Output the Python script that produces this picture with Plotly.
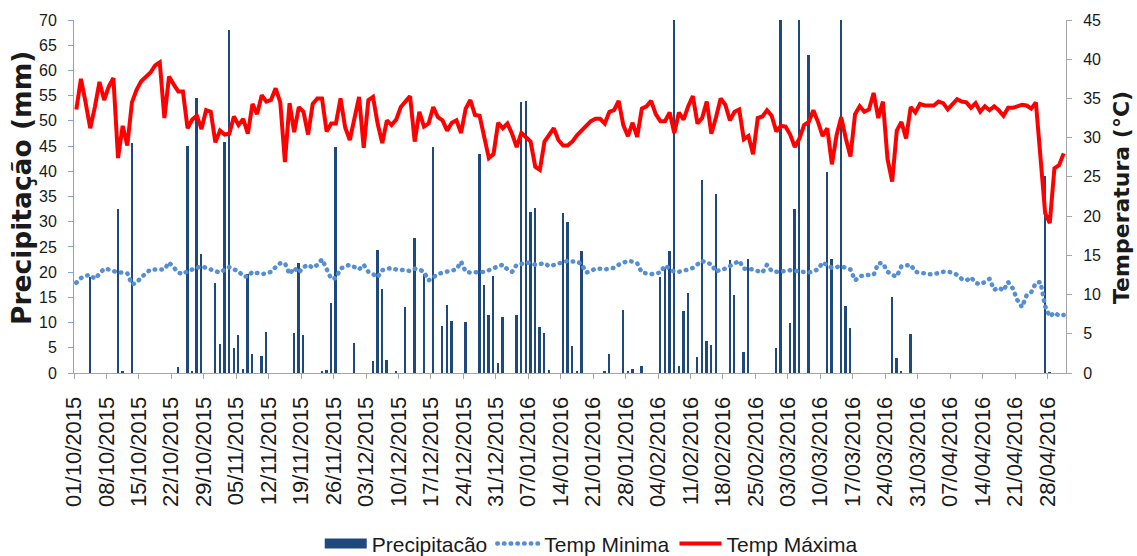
import plotly.graph_objects as go
import pandas as pd

# ---------------- data (daily, 01/10/2015 .. 01/05/2016) ----------------
start_date = "2015-10-01"

precipitacao = [
    0, 0, 0, 19.0, 0, 0, 0,
    0, 0, 32.6, 0.3, 0, 45.7, 0,
    0, 0, 0, 0, 0, 0, 0,
    0, 1.1, 0, 45.0, 0.4, 54.6, 23.5,
    0, 0, 17.8, 5.7, 45.8, 68.0, 5.0,
    7.5, 0.7, 19.6, 3.7, 0, 3.3, 8.1,
    0, 0, 0, 0, 0, 8.0, 21.8,
    7.5, 0, 0, 0, 0.3, 0.6, 13.8,
    44.8, 0, 0, 0, 6.0, 0, 0,
    0, 2.4, 24.4, 16.6, 2.6, 0, 0.2,
    0, 13.0, 0, 26.8, 0, 19.6, 0,
    44.8, 0, 9.4, 13.5, 10.4, 0, 0,
    10.2, 0, 0, 43.5, 17.4, 11.6, 19.2,
    1.9, 11.1, 0, 0, 11.5, 53.7, 54.0,
    31.9, 32.7, 9.2, 8.0, 0.6, 0, 0,
    31.8, 30.0, 5.3, 0.3, 24.2, 0, 0,
    0, 0, 0.2, 3.7, 0, 0, 12.5,
    0.3, 0.8, 0, 1.4, 0, 0, 0,
    19.1, 21.0, 24.2, 90.0, 1.4, 12.3, 15.8,
    0, 3.1, 38.3, 6.3, 5.6, 35.5, 0,
    0, 22.4, 15.5, 0, 4.1, 22.7, 0,
    0, 0, 0, 0, 5.0, 85.0, 0,
    10.0, 32.6, 78.0, 0, 63.0, 0, 0,
    0, 39.9, 22.7, 0, 95.0, 13.3, 9.0,
    0, 0, 0, 0, 0, 0, 0,
    0, 15.1, 2.9, 0.2, 0, 7.7, 0,
    0, 0, 0, 0, 0, 0, 0,
    0, 0, 0, 0, 0, 0, 0,
    0, 0, 0, 0, 0, 0, 0,
    0, 0, 0, 0, 0, 0, 39.1,
    0.1, 0, 0, 0,
]

temp_minima = [
    11.5, 12.1, 12.4, 12.5, 12.0, 12.6, 13.3,
    13.2, 13.0, 12.8, 12.8, 12.7, 11.3, 11.5,
    12.2, 12.8, 13.2, 13.2, 13.2, 13.2, 14.1,
    13.5, 12.8, 12.6, 13.0, 13.2, 13.4, 13.6,
    13.4, 13.2, 13.0, 12.8, 13.2, 13.5, 13.2,
    13.0, 12.3, 12.3, 12.9, 12.8, 12.6, 12.7,
    12.9, 13.5, 14.0, 14.0, 12.6, 13.4, 12.8,
    13.5, 13.8, 13.4, 13.8, 14.5, 13.1, 12.0,
    12.1, 13.3, 13.6, 13.8, 13.5, 13.2, 13.8,
    12.9, 12.6, 12.2, 13.1, 13.3, 13.4, 13.2,
    13.2, 13.1, 13.0, 13.3, 13.2, 12.9, 11.8,
    12.2, 12.6, 12.8, 12.9, 13.0, 13.2, 14.2,
    12.9, 12.8, 12.8, 12.8, 12.9, 13.1, 13.4,
    13.6, 13.8, 13.2, 12.9, 13.8, 13.9, 14.1,
    14.0, 13.8, 13.9, 14.0, 13.6, 13.8, 14.0,
    14.1, 14.3, 14.2, 14.2, 13.9, 12.8, 13.0,
    13.3, 13.3, 13.2, 13.3, 13.4, 13.8, 14.0,
    14.3, 14.2, 14.0, 12.8, 12.7, 12.6, 12.7,
    12.8, 13.7, 13.3, 12.9, 12.9, 13.0, 13.2,
    13.4, 13.9, 14.3, 14.0, 13.9, 12.9, 13.2,
    13.3, 13.6, 14.0, 14.3, 13.3, 13.3, 13.2,
    13.0, 12.8, 13.8, 13.0, 12.9, 12.9, 13.0,
    13.1, 13.0, 12.9, 12.8, 12.8, 13.0, 13.2,
    14.1, 13.8, 13.4, 13.5, 13.6, 13.4, 13.2,
    11.8, 12.3, 12.5, 12.5, 12.5, 14.0, 14.0,
    12.9, 12.5, 12.3, 13.6, 13.7, 13.8, 12.9,
    12.8, 12.6, 12.6, 12.6, 12.8, 12.9, 12.9,
    12.8, 12.5, 12.0, 11.8, 12.2, 11.5, 11.3,
    11.6, 12.0, 10.6, 10.9, 10.5, 11.6, 10.8,
    9.3, 8.4, 9.9, 10.3, 11.5, 11.6, 8.5,
    7.2, 7.7, 7.3, 7.4,
]

temp_maxima = [
    33.6, 37.5, 34.5, 31.2, 33.9, 37.1, 34.8,
    36.5, 37.6, 27.4, 31.5, 29.0, 34.5, 36.1,
    37.2, 37.7, 38.3, 39.2, 39.6, 32.5, 37.8,
    36.8, 35.9, 35.9, 31.2, 32.3, 32.8, 31.1,
    33.5, 33.3, 29.4, 30.9, 30.4, 30.5, 32.7,
    31.6, 32.4, 30.5, 34.3, 33.0, 35.4, 34.6,
    34.8, 36.3, 34.5, 26.9, 34.4, 30.7, 33.9,
    33.3, 30.4, 34.3, 35.0, 35.0, 30.8, 31.8,
    31.8, 35.0, 31.3, 29.7, 32.5, 35.2, 28.7,
    34.8, 35.2, 31.8, 29.3, 32.2, 31.6, 32.3,
    33.9, 34.6, 35.3, 29.5, 33.3, 31.4, 31.8,
    33.9, 32.6, 32.2, 30.9, 31.9, 32.2, 30.6,
    33.7, 34.8, 32.9, 32.8, 29.9, 27.4, 27.9,
    31.9, 31.2, 31.8, 30.5, 28.8, 30.6, 30.1,
    29.5, 26.3, 25.9, 29.5, 30.3, 31.2, 29.7,
    29.0, 29.0, 29.5, 30.3, 30.9, 31.6, 32.1,
    32.4, 32.4, 31.8, 33.3, 33.5, 34.7, 31.6,
    30.2, 31.9, 30.1, 33.7, 34.0, 34.7, 33.0,
    32.1, 32.1, 33.2, 30.6, 33.2, 32.3, 34.0,
    35.3, 31.8, 32.5, 34.6, 30.5, 32.6, 35.0,
    34.2, 32.2, 33.3, 33.6, 29.8, 30.2, 27.9,
    32.5, 32.7, 33.5, 32.8, 30.8, 31.5, 31.4,
    30.4, 28.8, 29.9, 31.6, 32.0, 33.5, 32.0,
    30.2, 31.2, 26.6, 30.3, 32.6, 29.9, 27.6,
    33.0, 34.0, 33.3, 33.6, 35.7, 32.5, 34.6,
    27.3, 24.4, 30.9, 32.0, 29.9, 33.9, 33.2,
    34.3, 34.1, 34.1, 34.1, 34.6, 34.4, 33.6,
    34.3, 34.9, 34.6, 34.5, 33.8, 34.4, 33.3,
    34.0, 33.5, 34.0, 33.5, 32.8, 33.8, 33.8,
    34.0, 34.2, 34.1, 33.7, 34.5, 28.0, 20.4,
    19.1, 26.1, 26.5, 28.0,
]

datas = pd.date_range(start_date, periods=len(temp_maxima), freq="D")
tick_datas = pd.date_range("2015-10-01", "2016-04-28", freq="7D")
tick_rotulos = [d.strftime("%d/%m/%Y") for d in tick_datas]

titulo_y1 = "Precipitação (mm)"
titulo_y2 = "Temperatura (°C)"

DAY_MS = 86400000
FONT = "Liberation Sans, Arial, sans-serif"
TITLE_FONT = "DejaVu Sans, sans-serif"
TXT = "#1a1a1a"
BAR_COLOR = "#1F497D"
MIN_COLOR = "#558ED5"
MAX_COLOR = "#FF0000"

fig = go.Figure()

fig.add_trace(go.Bar(
    x=datas, y=precipitacao, name="Precipitacão",
    marker=dict(color=BAR_COLOR, line=dict(width=0)),
    width=0.4 * DAY_MS, xperiod=DAY_MS, xperiodalignment="middle",
    yaxis="y", showlegend=False,
))
# legend proxy for the bar series (wide swatch like the original)
fig.add_trace(go.Scatter(
    x=[None], y=[None], mode="lines", name="Precipitacão",
    line=dict(color=BAR_COLOR, width=14), yaxis="y",
))
fig.add_trace(go.Scatter(
    x=datas, y=temp_minima, name="Temp Minima", mode="lines",
    line=dict(color=MIN_COLOR, width=4.5, dash="0.5px,6.2px"),
    xperiod=DAY_MS, xperiodalignment="middle", yaxis="y2",
))
fig.add_trace(go.Scatter(
    x=datas, y=temp_maxima, name="Temp Máxima", mode="lines",
    line=dict(color=MAX_COLOR, width=4),
    xperiod=DAY_MS, xperiodalignment="middle", yaxis="y2",
))

fig.update_layout(
    width=1137, height=556,
    margin=dict(l=74, r=71, t=17, b=183, pad=0),
    paper_bgcolor="white", plot_bgcolor="white",
    font=dict(family=FONT, color=TXT),
    bargap=0,
    xaxis=dict(
        type="date", range=["2015-10-01", "2016-05-02"],
        tickmode="array", tickvals=tick_datas, ticktext=tick_rotulos,
        tickangle=-90, tickfont=dict(size=22, color=TXT),
        ticks="outside", ticklen=5, tickcolor="#A6A6A6",
        showline=True, linecolor="#A6A6A6", linewidth=1,
        showgrid=False, zeroline=False, ticklabelstandoff=9,
    ),
    yaxis=dict(
        range=[0, 70], tick0=0, dtick=5,
        ticks="outside", ticklen=5, tickcolor="#7EA6DC",
        showline=True, linecolor="#7EA6DC", linewidth=1,
        showgrid=False, zeroline=False,
        tickfont=dict(size=16, color=TXT), ticklabelstandoff=8,
    ),
    yaxis2=dict(
        range=[0, 45], tick0=0, dtick=5, overlaying="y", side="right",
        ticks="outside", ticklen=5, tickcolor="#A6A6A6",
        showline=True, linecolor="#A6A6A6", linewidth=1,
        showgrid=False, zeroline=False,
        tickfont=dict(size=16, color=TXT), ticklabelstandoff=8,
    ),
    legend=dict(
        orientation="h", xref="container", yref="container",
        x=0.52, xanchor="center", y=0.022, yanchor="middle",
        font=dict(size=21, color=TXT), itemwidth=42,
        bgcolor="rgba(0,0,0,0)",
    ),
    annotations=[
        dict(text=titulo_y1, textangle=-90, xref="paper", yref="paper",
             x=-0.0535, y=0.524, xanchor="center", yanchor="middle",
             showarrow=False,
             font=dict(family=TITLE_FONT, size=26.5, weight="bold", color=TXT)),
        dict(text=titulo_y2, textangle=-90, xref="paper", yref="paper",
             x=1.0565, y=0.496, xanchor="center", yanchor="middle",
             showarrow=False,
             font=dict(family=TITLE_FONT, size=22, weight="bold", color=TXT)),
    ],
)

post = """
var gd = document.getElementById('{plot_id}');
function roundDots(){
  gd.querySelectorAll('path').forEach(function(p){
    var da = p.style.strokeDasharray;
    if (da && da !== 'none' && da.indexOf('0.5px') === 0) { p.style.strokeLinecap = 'round'; }
  });
}
roundDots();
if (gd.on) { gd.on('plotly_afterplot', roundDots); }
setTimeout(roundDots, 50);
"""

fig.write_html("out.html", post_script=post)
